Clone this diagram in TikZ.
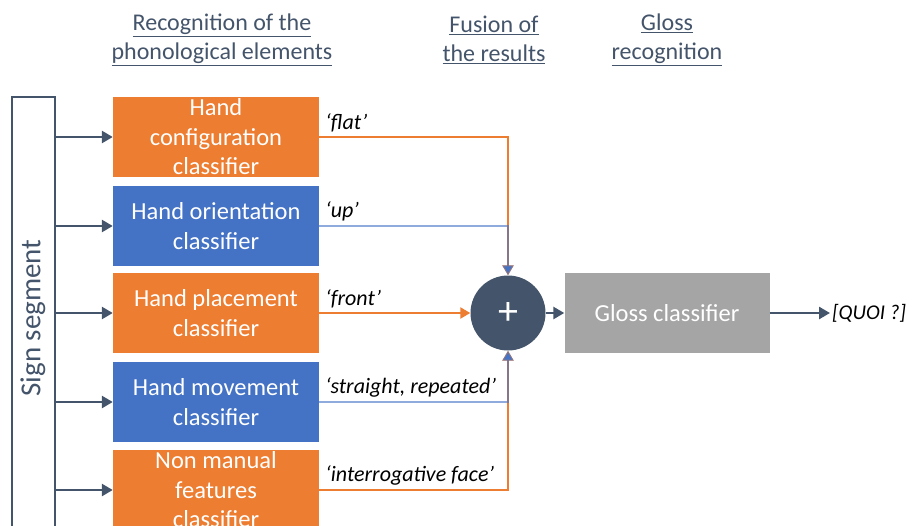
\documentclass[tikz,border=0pt]{standalone}
\usepackage{fontspec}
\setmainfont{Carlito}
\usepackage{tikz}
\usetikzlibrary{arrows.meta,positioning,shapes.geometric}
\definecolor{boxorange}{HTML}{ED7D31}
\definecolor{boxblue}{HTML}{4472C4}
\definecolor{boxgray}{HTML}{A5A5A5}
\definecolor{slate}{HTML}{44546A}
\tikzstyle{arrow} = [line width=2.6pt,draw=slate,-{Triangle[length=11pt,width=12pt]}]

\begin{document}
\begin{tikzpicture}[x=1pt,y=-1pt]
    \tikzstyle{classif}=[minimum width=206pt,minimum height=80pt,inner sep=0pt,text=white,align=center,font=\fontsize{24.5}{29.5}\selectfont]
    \tikzstyle{heading}=[text=slate,align=center,font=\fontsize{24}{29}\selectfont]
    \tikzstyle{result}=[anchor=south west,inner sep=0pt,xshift=6pt,yshift=5pt,font=\fontsize{22}{24}\selectfont\itshape]
    \tikzstyle{orangeline}=[line width=2.2pt,draw=boxorange,-{Triangle[length=10pt,width=11pt]}]
    \tikzstyle{blueline}=[line width=2.2pt,draw=boxblue,draw opacity=0.6,-{Triangle[length=10pt,width=11pt]}]

    \useasboundingbox (0,0) rectangle (912,525);
    \clip (0,0) rectangle (912,525);

    % column titles
    \node [heading] (hrecog) at (222,40) {\underline{Recognition of the}\\\underline{phonological elements}};
    \node [heading] (hfusion) at (494,40) {\underline{Fusion of}\\\underline{the results}};
    \node [heading] (hgloss) at (667,40) {\underline{Gloss}\\\underline{recognition}};

    % input segment
    \draw [line width=2pt,draw=slate] (12,97) rectangle (55,560);
    \node [rotate=90,text=slate,font=\fontsize{29}{30}\selectfont] (segment) at (33,318) {Sign segment};
    \coordinate (segedge) at (55,0);

    % classifiers
    \node [classif,fill=boxorange] (handconf) at (216,137) {Hand\\configuration\\classifier};
    \node [classif,fill=boxblue] (handori) at (216,226) {Hand orientation\\classifier};
    \node [classif,fill=boxorange] (handplace) at (216,313) {Hand placement\\classifier};
    \node [classif,fill=boxblue] (handmove) at (216,402) {Hand movement\\classifier};
    \node [classif,fill=boxorange] (nonmanual) at (216,490) {Non manual\\features\\classifier};

    \foreach \c in {handconf,handori,handplace,handmove,nonmanual}
        \draw [arrow] (segedge |- \c.west) -- (\c.west);

    % fusion and gloss
    \node [circle,fill=slate,minimum size=75pt,inner sep=0pt,text=white,font=\fontsize{40}{40}\selectfont] (plus) at (508,313) {+};
    \node [fill=boxgray,minimum width=205pt,minimum height=80pt,text=white,font=\fontsize{24.5}{30}\selectfont] (gloss) at (667,313) {Gloss classifier};
    \node [anchor=west,inner sep=2pt,font=\fontsize{21}{24}\selectfont\itshape] (quoi) at (830,313) {[QUOI ?]};

    \draw [orangeline] (handconf.east) -| (plus.north);
    \draw [blueline] (handori.east) -| (plus.north);
    \draw [orangeline] (handplace.east) -- (plus.west);
    \draw [orangeline] (nonmanual.east) -| (plus.south);
    \draw [blueline] (handmove.east) -| (plus.south);
    \draw [arrow] (plus) -- (gloss);
    \draw [arrow] (gloss) -- (quoi);

    % recognised values
    \node [result] (vflat) at (handconf.east) {`flat'};
    \node [result] (vup) at (handori.east) {`up'};
    \node [result] (vfront) at (handplace.east) {`front'};
    \node [result] (vmove) at (handmove.east) {`straight, repeated'};
    \node [result] (vface) at (nonmanual.east) {`interrogative face'};
\end{tikzpicture}
\end{document}
